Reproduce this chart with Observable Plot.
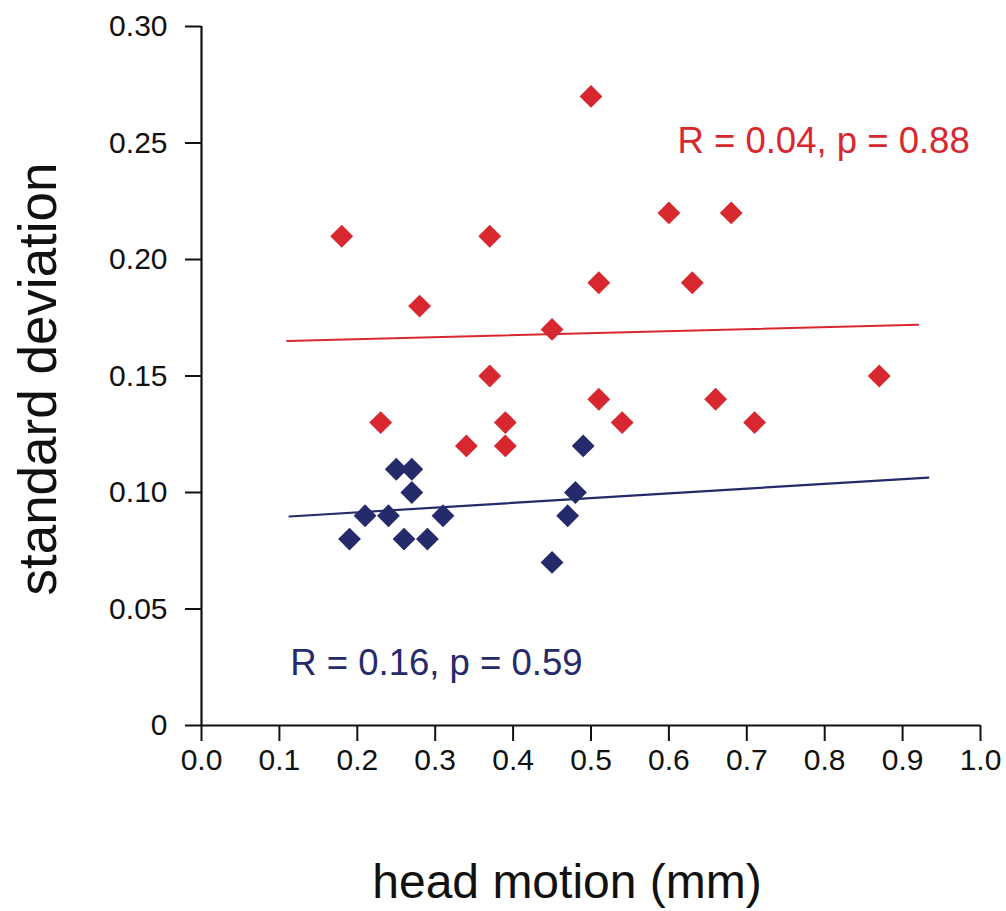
<!DOCTYPE html>
<html>
<head>
<meta charset="utf-8">
<script src="https://cdn.jsdelivr.net/npm/d3@7"></script>
<script src="https://cdn.jsdelivr.net/npm/@observablehq/plot@0.6"></script>
<style>
  html, body { margin: 0; padding: 0; background: #fff; }
  #chart svg { display: block; }
</style>
</head>
<body>
<div id="chart"></div>
<script>
// Red group: head motion (mm) vs standard deviation
const redMotion = [0.18, 0.23, 0.28, 0.34, 0.37, 0.37, 0.39, 0.39, 0.45, 0.50, 0.51, 0.51, 0.54, 0.60, 0.63, 0.66, 0.68, 0.71, 0.87];
const redSD     = [0.21, 0.13, 0.18, 0.12, 0.21, 0.15, 0.13, 0.12, 0.17, 0.27, 0.19, 0.14, 0.13, 0.22, 0.19, 0.14, 0.22, 0.13, 0.15];

// Blue group
const blueMotion = [0.19, 0.21, 0.24, 0.25, 0.27, 0.27, 0.26, 0.29, 0.31, 0.45, 0.47, 0.48, 0.49];
const blueSD     = [0.08, 0.09, 0.09, 0.11, 0.11, 0.10, 0.08, 0.08, 0.09, 0.07, 0.09, 0.10, 0.12];

// Fitted regression line endpoints
const redFitX  = [0.11, 0.92];
const redFitY  = [0.165, 0.172];
const blueFitX = [0.113, 0.933];
const blueFitY = [0.0897, 0.1064];

// Annotations
const redNote  = "R = 0.04, p = 0.88";
const blueNote = "R = 0.16, p = 0.59";
const redNotePos  = [0.611, 0.2506];
const blueNotePos = [0.114, 0.0266];

// Ticks & labels
const xTicks = [0, 0.1, 0.2, 0.3, 0.4, 0.5, 0.6, 0.7, 0.8, 0.9, 1.0];
const yTicks = [0, 0.05, 0.10, 0.15, 0.20, 0.25, 0.30];
const xTitle = "head motion (mm)";
const yTitle = "standard deviation";

const RED = "#d7282f";
const BLUE = "#252a6b";
const INK = "#111";
const FONT = "'Liberation Sans', Arial, Helvetica, sans-serif";

const red = redMotion.map((x, i) => ({x, y: redSD[i]}));
const blue = blueMotion.map((x, i) => ({x, y: blueSD[i]}));
const redFit = redFitX.map((x, i) => ({x, y: redFitY[i]}));
const blueFit = blueFitX.map((x, i) => ({x, y: blueFitY[i]}));

const chart = Plot.plot({
  width: 1006,
  height: 911,
  marginLeft: 201,
  marginRight: 26,
  marginTop: 26,
  marginBottom: 186,
  style: { fontFamily: FONT, fontSize: "30px", background: "#fff", color: INK, overflow: "visible" },
  x: { domain: [0, 1] },
  y: { domain: [0, 0.3] },
  marks: [
    Plot.axisY({
      ticks: yTicks, tickSize: 16, tickPadding: 18,
      tickFormat: d => d === 0 ? "0" : d.toFixed(2),
      fontSize: 30, strokeWidth: 2, stroke: INK, fill: INK, label: null
    }),
    Plot.axisX({
      ticks: xTicks, tickSize: 16, tickPadding: 7,
      tickFormat: d => d.toFixed(1),
      fontSize: 30, strokeWidth: 2, stroke: INK, fill: INK, label: null
    }),
    Plot.ruleY([0], { x1: 0, x2: 1, stroke: INK, strokeWidth: 2.2 }),
    Plot.ruleX([0], { y1: 0, y2: 0.3, stroke: INK, strokeWidth: 2.2 }),
    Plot.line(redFit, { x: "x", y: "y", stroke: RED, strokeWidth: 2 }),
    Plot.line(blueFit, { x: "x", y: "y", stroke: BLUE, strokeWidth: 2.2 }),
    Plot.dot(red, { x: "x", y: "y", symbol: "diamond2", r: 10.3, fill: RED, stroke: "none" }),
    Plot.dot(blue, { x: "x", y: "y", symbol: "diamond2", r: 10.3, fill: BLUE, stroke: "none" }),
    Plot.text([redNote], { x: () => redNotePos[0], y: () => redNotePos[1], text: d => d, textAnchor: "start", lineAnchor: "middle", fontSize: 36.5, fill: RED }),
    Plot.text([blueNote], { x: () => blueNotePos[0], y: () => blueNotePos[1], text: d => d, textAnchor: "start", lineAnchor: "middle", fontSize: 36.5, fill: BLUE }),
    Plot.text([xTitle], { frameAnchor: "bottom", text: d => d, dx: -24, dy: 157, textAnchor: "middle", lineAnchor: "middle", fontSize: 48, fill: INK }),
    Plot.text([yTitle], { frameAnchor: "left", text: d => d, dx: -162, dy: 3, rotate: -90, textAnchor: "middle", lineAnchor: "middle", fontSize: 53, fill: INK })
  ]
});
document.getElementById("chart").appendChild(chart);
</script>
</body>
</html>
